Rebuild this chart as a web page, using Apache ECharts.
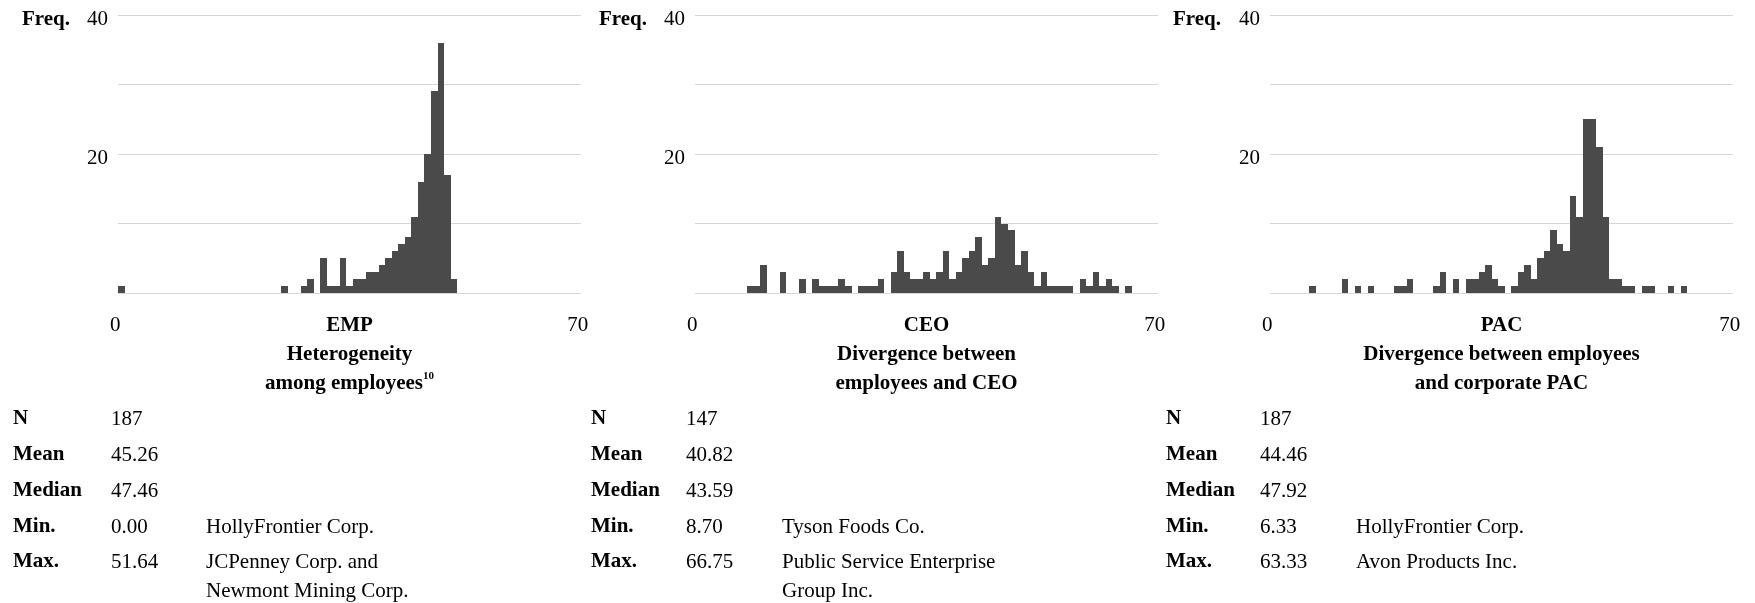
<!DOCTYPE html>
<html>
<head>
<meta charset="utf-8">
<script src="https://cdn.jsdelivr.net/npm/echarts@6/dist/echarts.min.js"></script>
<style>
  html, body { margin: 0; padding: 0; background: #ffffff; }
  #chart { width: 1755px; height: 603px; }
</style>
</head>
<body>
<div id="chart"></div>
<script>
// Histogram bins of width 1 on the 0–70 scale; bin k covers [k, k+1)
const binStarts = Array.from({ length: 71 }, (_, k) => String(k));

// Frequencies per bin (index = bin start)
const empCounts = [
  1, 0, 0, 0, 0, 0, 0, 0, 0, 0,
  0, 0, 0, 0, 0, 0, 0, 0, 0, 0,
  0, 0, 0, 0, 0, 1, 0, 0, 1, 2,
  0, 5, 1, 1, 5, 1, 2, 2, 3, 3,
  4, 5, 6, 7, 8, 11, 16, 20, 29, 36,
  17, 2, 0, 0, 0, 0, 0, 0, 0, 0,
  0, 0, 0, 0, 0, 0, 0, 0, 0, 0,
  0
];
const ceoCounts = [
  0, 0, 0, 0, 0, 0, 0, 0, 1, 1,
  4, 0, 0, 3, 0, 0, 2, 0, 2, 1,
  1, 1, 2, 1, 0, 1, 1, 1, 2, 0,
  3, 6, 3, 2, 2, 3, 2, 3, 6, 2,
  3, 5, 6, 8, 4, 5, 11, 10, 9, 4,
  6, 3, 1, 3, 1, 1, 1, 1, 0, 2,
  1, 3, 1, 2, 1, 0, 1, 0, 0, 0,
  0
];
const pacCounts = [
  0, 0, 0, 0, 0, 0, 1, 0, 0, 0,
  0, 2, 0, 1, 0, 1, 0, 0, 0, 1,
  1, 2, 0, 0, 0, 1, 3, 0, 2, 0,
  2, 2, 3, 4, 2, 1, 0, 1, 3, 4,
  2, 5, 6, 9, 7, 6, 14, 11, 25, 25,
  21, 11, 2, 2, 1, 1, 0, 1, 1, 0,
  0, 1, 0, 1, 0, 0, 0, 0, 0, 0,
  0
];

// Panel headings
const panelCodes = ['EMP', 'CEO', 'PAC'];
const panelTitles = [
  ['Heterogeneity', 'among employees'],
  ['Divergence between', 'employees and CEO'],
  ['Divergence between employees', 'and corporate PAC']
];
const panelNoteMarks = ['10', '', ''];

// Summary statistics
const statLabels = ['N', 'Mean', 'Median', 'Min.', 'Max.'];
const empStats = ['187', '45.26', '47.46', '0.00', '51.64'];
const ceoStats = ['147', '40.82', '43.59', '8.70', '66.75'];
const pacStats = ['187', '44.46', '47.92', '6.33', '63.33'];
const empExtremes = ['HollyFrontier Corp.', 'JCPenney Corp. and\nNewmont Mining Corp.'];
const ceoExtremes = ['Tyson Foods Co.', 'Public Service Enterprise\nGroup Inc.'];
const pacExtremes = ['HollyFrontier Corp.', 'Avon Products Inc.'];

const countsByPanel = [empCounts, ceoCounts, pacCounts];
const statsByPanel = [empStats, ceoStats, pacStats];
const extremesByPanel = [empExtremes, ceoExtremes, pacExtremes];

// Layout
const FONT = "'Liberation Serif', 'Times New Roman', serif";
const FS = 21;
const BAR = '#4a4a4a';
const gridLefts = [118, 695, 1270];
const gridTop = 15;
const gridWidth = 463;
const gridHeight = 278;
const freqX = [22, 599, 1173];
const statCols = [[13, 111, 206], [591, 686, 782], [1166, 1260, 1356]];
const rowY = [419, 455, 491, 527, 562];

const chart = echarts.init(document.getElementById('chart'), null, { renderer: 'canvas' });

const grids = gridLefts.map(left => ({ left: left, top: gridTop, width: gridWidth, height: gridHeight }));

const xAxes = panelCodes.map((code, i) => {
  const sup = panelNoteMarks[i] ? '{sup|' + panelNoteMarks[i] + '}' : '';
  return {
    type: 'category',
    gridIndex: i,
    data: binStarts,
    boundaryGap: true,
    axisLine: { show: false },
    axisTick: { show: false },
    splitLine: { show: false },
    axisLabel: {
      interval: (idx) => idx === 0 || idx === binStarts.length - 1,
      formatter: (v) => (v === '0' ? '{lo|' + v + '}' : '{hi|' + v + '}'),
      margin: 18,
      rich: {
        lo: { fontFamily: FONT, fontSize: FS, color: '#000', lineHeight: 28, padding: [0, 12, 0, 0] },
        hi: { fontFamily: FONT, fontSize: FS, color: '#000', lineHeight: 28, padding: [0, 0, 0, 0] }
      }
    },
    name: '{b|' + code + '}\n{b|' + panelTitles[i][0] + '}\n{b|' + panelTitles[i][1] + '}' + sup,
    nameLocation: 'middle',
    nameGap: 18,
    nameMoveOverlap: false,
    nameTextStyle: {
      fontFamily: FONT, fontSize: FS, fontWeight: 'bold', color: '#000', lineHeight: 29, align: 'center',
      verticalAlign: 'top',
      rich: {
        b: { fontFamily: FONT, fontSize: FS, fontWeight: 'bold', color: '#000', lineHeight: 29 },
        sup: { fontFamily: FONT, fontSize: 11, fontWeight: 'bold', color: '#000', lineHeight: 12, verticalAlign: 'top', padding: [2, 0, 0, 0] }
      }
    }
  };
});

const yAxes = panelCodes.map((code, i) => ({
  type: 'value',
  gridIndex: i,
  min: 0,
  max: 40,
  interval: 10,
  axisLine: { show: false },
  axisTick: { show: false },
  splitLine: { show: true, lineStyle: { color: '#d6d6d6', width: 1 } },
  axisLabel: {
    formatter: (v) => (v === 20 || v === 40 ? String(v) : ''),
    fontFamily: FONT, fontSize: FS, color: '#000',
    margin: 10,
    verticalAlign: 'top',
    lineHeight: 8
  }
}));

// Each bin is a rectangle spanning its whole category band; edges are
// snapped to whole pixels so neighbouring bins join without seams.
function renderBin(params, api) {
  const bin = api.value(0);
  const count = api.value(1);
  const top = api.coord([bin, count]);
  const base = api.coord([bin, 0]);
  const band = api.size([1, 0])[0];
  const x0 = Math.round(top[0] - band / 2);
  const x1 = Math.round(top[0] + band / 2);
  const y0 = Math.round(top[1]);
  const y1 = Math.round(base[1]);
  return {
    type: 'rect',
    shape: { x: x0, y: y0, width: x1 - x0, height: y1 - y0 },
    style: { fill: BAR }
  };
}

const series = countsByPanel.map((counts, i) => ({
  type: 'custom',
  xAxisIndex: i,
  yAxisIndex: i,
  renderItem: renderBin,
  encode: { x: 0, y: 1 },
  data: counts.map((c, k) => [k, c]).filter(d => d[1] > 0),
  silent: true
}));

// Text blocks: "Freq." headers and the statistics tables
const graphics = [];
freqX.forEach(x => {
  graphics.push({
    type: 'text', left: x, top: 9,
    style: { text: 'Freq.', fontFamily: FONT, fontSize: FS, fontWeight: 'bold', fill: '#000' }
  });
});
statsByPanel.forEach((stats, p) => {
  const cols = statCols[p];
  statLabels.forEach((lab, r) => {
    graphics.push({
      type: 'text', x: cols[0], y: rowY[r],
      style: { text: lab, fontFamily: FONT, fontSize: FS, fontWeight: 'bold', fill: '#000', verticalAlign: 'middle' }
    });
    graphics.push({
      type: 'text', x: cols[1], y: rowY[r],
      style: { text: stats[r], fontFamily: FONT, fontSize: FS, fill: '#000', verticalAlign: 'middle' }
    });
  });
  extremesByPanel[p].forEach((note, k) => {
    graphics.push({
      type: 'text', x: cols[2], y: rowY[3 + k] - 14,
      style: { text: note, fontFamily: FONT, fontSize: FS, fill: '#000', verticalAlign: 'top', lineHeight: 29 }
    });
  });
});

chart.setOption({
  animation: false,
  backgroundColor: '#ffffff',
  grid: grids,
  xAxis: xAxes,
  yAxis: yAxes,
  series: series,
  graphic: graphics
});
</script>
</body>
</html>
